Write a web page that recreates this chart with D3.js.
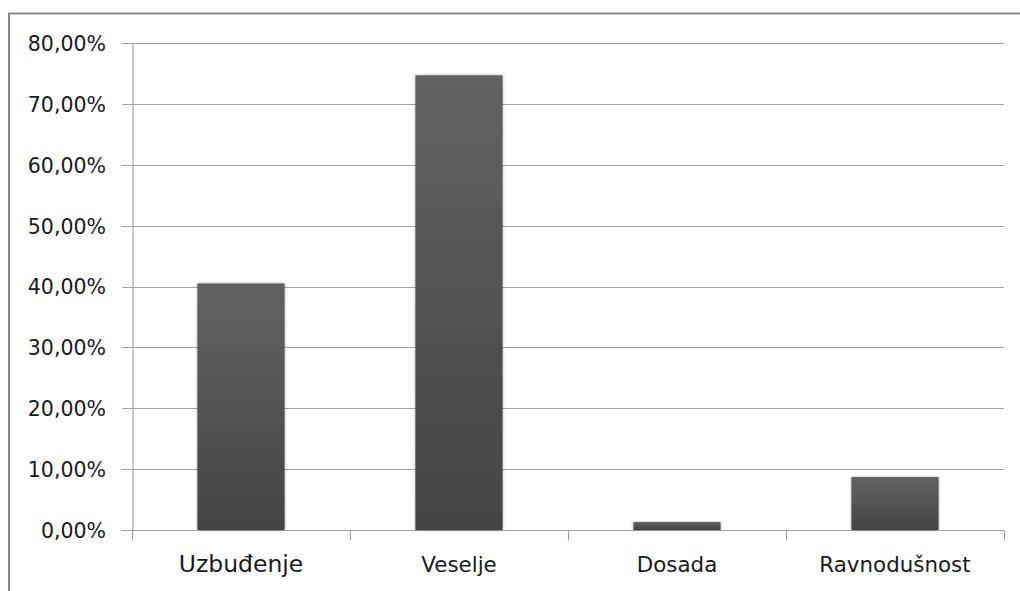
<!DOCTYPE html>
<html>
<head>
<meta charset="utf-8">
<script src="https://cdnjs.cloudflare.com/ajax/libs/d3/7.8.5/d3.min.js"></script>
<style>
  body { margin: 0; background: #fff; }
  text { font-family: "DejaVu Sans", sans-serif; fill: #1a1a1a; }
</style>
</head>
<body>
<div id="VizBox"></div>
<script>
// data
var categories = ["Uzbuđenje", "Veselje", "Dosada", "Ravnodušnost"];
var values = [0.405, 0.747, 0.013, 0.087];
var yTicks = [0, 0.1, 0.2, 0.3, 0.4, 0.5, 0.6, 0.7, 0.8];

var data = categories.map(function(c, i) { return {group: c, value: values[i]}; });

var W = 1020, H = 591;
var margin = {top: 43, right: 16, bottom: 61, left: 132},
    width = W - margin.left - margin.right,
    height = H - margin.top - margin.bottom;

var root = d3.select("#VizBox")
  .append("svg")
    .attr("width", W)
    .attr("height", H);

// bar shading
var defs = root.append("defs");
var grad = defs.append("linearGradient")
  .attr("id", "barGrad")
  .attr("x1", 0).attr("y1", 0).attr("x2", 0).attr("y2", 1);
grad.append("stop").attr("offset", "0%").attr("stop-color", "#626262");
grad.append("stop").attr("offset", "100%").attr("stop-color", "#444444");
var shadow = defs.append("filter").attr("id", "shadow")
  .attr("x", "-10%").attr("y", "-10%").attr("width", "120%").attr("height", "120%");
shadow.append("feDropShadow")
  .attr("dx", 0).attr("dy", 0).attr("stdDeviation", 1.5)
  .attr("flood-color", "#000").attr("flood-opacity", 0.35);

// outer frame
root.append("rect")
  .attr("x", 9).attr("y", 13.5)
  .attr("width", 1100).attr("height", 700)
  .attr("fill", "none")
  .attr("stroke", "#888")
  .attr("stroke-width", 2);

var svg = root.append("g")
  .attr("transform", "translate(" + margin.left + "," + margin.top + ")");

// scales
var x = d3.scaleBand()
  .domain(categories)
  .range([0, width])
  .paddingInner(0.6)
  .paddingOuter(0.3);
var xCat = d3.scaleBand()
  .domain(categories)
  .range([0, width]);
var y = d3.scaleLinear()
  .domain([0, 0.8])
  .range([height, 0]);

// gridlines
svg.append("g")
  .selectAll("line")
  .data(yTicks)
  .enter()
  .append("line")
    .attr("x1", -10)
    .attr("x2", width)
    .attr("y1", function(d) { return Math.round(y(d)) + 0.5; })
    .attr("y2", function(d) { return Math.round(y(d)) + 0.5; })
    .attr("stroke", "#a3a3a3")
    .attr("stroke-width", 1.2);

// y axis
var fmt = function(d) { return d3.format(".2f")(d * 100).replace(".", ",") + "%"; };
var yAxis = svg.append("g")
  .call(d3.axisLeft(y).tickValues(yTicks).tickFormat(fmt).tickSize(0).tickPadding(26));
yAxis.select(".domain")
  .attr("stroke", "#a3a3a3")
  .attr("stroke-width", 1.2)
  .attr("transform", "translate(0.5,0)");
yAxis.selectAll("text")
  .style("font-size", "20.5px")
  .attr("dy", "0.36em")
  .style("fill", "#1a1a1a");

// x axis (ticks between categories)
var xAxis = svg.append("g")
  .attr("transform", "translate(0," + (Math.round(height) + 0.5) + ")");
xAxis.selectAll("line")
  .data(categories.concat(["_end"]))
  .enter()
  .append("line")
    .attr("x1", function(d, i) { return Math.round(i * xCat.step()) + 0.5; })
    .attr("x2", function(d, i) { return Math.round(i * xCat.step()) + 0.5; })
    .attr("y1", 0)
    .attr("y2", 10)
    .attr("stroke", "#a3a3a3")
    .attr("stroke-width", 1.2);
xAxis.selectAll("text")
  .data(categories)
  .enter()
  .append("text")
    .attr("x", function(d) { return xCat(d) + xCat.bandwidth() / 2; })
    .attr("y", 41)
    .attr("text-anchor", "middle")
    .style("font-size", function(d, i) { return i == 0 ? "23.5px" : "21.4px"; })
    .text(function(d) { return d; });

// bars
svg.selectAll("rect.bar")
  .data(data)
  .enter()
  .append("rect")
    .attr("class", "bar")
    .attr("x", function(d) { return x(d.group); })
    .attr("y", function(d) { return y(d.value); })
    .attr("width", x.bandwidth())
    .attr("height", function(d) { return height - y(d.value); })
    .attr("fill", "url(#barGrad)")
    .attr("filter", "url(#shadow)");
</script>
</body>
</html>
